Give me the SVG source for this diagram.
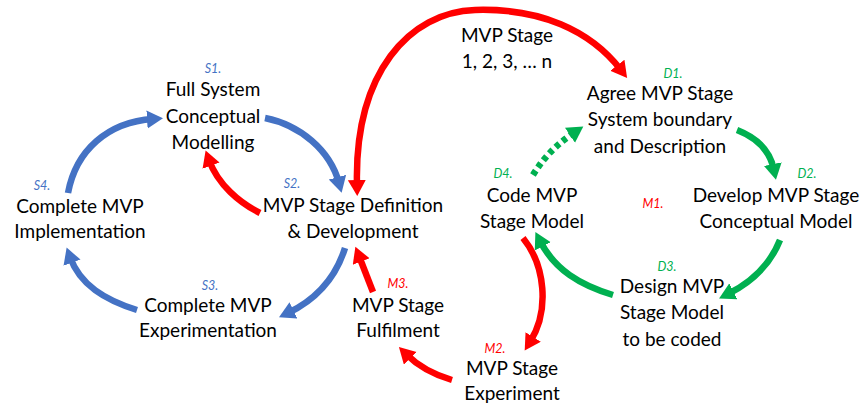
<svg xmlns="http://www.w3.org/2000/svg" width="860" height="406" viewBox="0 0 860 406">
<style>
.t{font-family:Lato,"Liberation Sans",sans-serif;font-size:19px;fill:#000;text-anchor:middle}
.l{font-family:Lato,"Liberation Sans",sans-serif;font-size:12.5px;font-style:italic;text-anchor:middle}
.b{fill:#4472C4}.r{fill:#FF0000}.g{fill:#00B050}
.c{fill:none;stroke-width:6.5}
.cb{stroke:#4472C4;marker-end:url(#hb)}
.cr{stroke:#FF0000;marker-end:url(#hr)}
.cg{stroke:#00B050;marker-end:url(#hg)}
</style>
<defs>
<marker id="hb" markerUnits="userSpaceOnUse" markerWidth="18" markerHeight="20" refX="6" refY="9" orient="auto"><path d="M0,0 L16,9 L0,18 z" fill="#4472C4"/></marker>
<marker id="hr" markerUnits="userSpaceOnUse" markerWidth="18" markerHeight="20" refX="6" refY="9" orient="auto-start-reverse"><path d="M0,0 L16,9 L0,18 z" fill="#FF0000"/></marker>
<marker id="hg" markerUnits="userSpaceOnUse" markerWidth="18" markerHeight="20" refX="6" refY="9" orient="auto"><path d="M0,0 L16,9 L0,18 z" fill="#00B050"/></marker>
</defs>
<rect width="860" height="406" fill="#fff"/>
<g id="connectors">
<path class="c cb" d="M68,193 C76,150 108,122 153,119"/>
<path class="c cb" d="M265,118 C300,125 330,150 339,183"/>
<path class="c cr" d="M260,213 C240,203 218,185 209,160"/>
<path class="c cr" style="marker-start:url(#hr)" d="M357,186 C354,72 410,12 475,10 C540,8 590,30 621,70"/>
<path class="c cb" d="M345,248 C335,280 315,300 288,313"/>
<path class="c cb" d="M137,310 C105,300 80,285 70,257"/>
<path class="c cr" d="M373,292 L359,256"/>
<path class="c cr" d="M452,380 C435,375 418,366 406,354"/>
<path class="c cr" d="M523,238 C545,265 550,310 530,342"/>
<path class="c cg" d="M613,295 C580,285 555,270 540,241"/>
<path class="c cg" d="M780,240 C770,265 752,282 728,294"/>
<path class="c cg" d="M737,130 C755,137 770,150 774,170"/>
<path class="c cg" stroke-dasharray="5 4" d="M533,175 C545,155 560,142 575,132"/>
</g>
<g id="S1"><text class="l b" x="213" y="73">S1.</text><text class="t" x="213" y="96">Full System</text><text class="t" x="213" y="123">Conceptual</text><text class="t" x="213" y="149">Modelling</text></g>
<g id="S2"><text class="l b" x="292" y="188">S2.</text><text class="t" x="353" y="212">MVP Stage Definition</text><text class="t" x="353" y="238">&amp; Development</text></g>
<g id="S3"><text class="l b" x="210" y="290">S3.</text><text class="t" x="208" y="312">Complete MVP</text><text class="t" x="208" y="337">Experimentation</text></g>
<g id="S4"><text class="l b" x="42" y="190">S4.</text><text class="t" x="80" y="213">Complete MVP</text><text class="t" x="80" y="238">Implementation</text></g>
<g id="stages"><text class="t" x="507" y="42">MVP Stage</text><text class="t" x="507" y="68">1, 2, 3, … n</text></g>
<g id="D1"><text class="l g" x="673" y="78">D1.</text><text class="t" x="660" y="100">Agree MVP Stage</text><text class="t" x="660" y="126">System boundary</text><text class="t" x="660" y="153">and Description</text></g>
<g id="D2"><text class="l g" x="807" y="178">D2.</text><text class="t" x="776" y="202">Develop MVP Stage</text><text class="t" x="776" y="228">Conceptual Model</text></g>
<g id="D3"><text class="l g" x="667" y="271">D3.</text><text class="t" x="672" y="293">Design MVP</text><text class="t" x="672" y="319">Stage Model</text><text class="t" x="672" y="346">to be coded</text></g>
<g id="D4"><text class="l g" x="503" y="178">D4.</text><text class="t" x="532" y="202">Code MVP</text><text class="t" x="532" y="228">Stage Model</text></g>
<g id="M1"><text class="l r" x="653" y="208">M1.</text></g>
<g id="M2"><text class="l r" x="495" y="353">M2.</text><text class="t" x="512" y="375">MVP Stage</text><text class="t" x="512" y="400">Experiment</text></g>
<g id="M3"><text class="l r" x="398" y="288">M3.</text><text class="t" x="398" y="312">MVP Stage</text><text class="t" x="398" y="337">Fulfilment</text></g>
</svg>
